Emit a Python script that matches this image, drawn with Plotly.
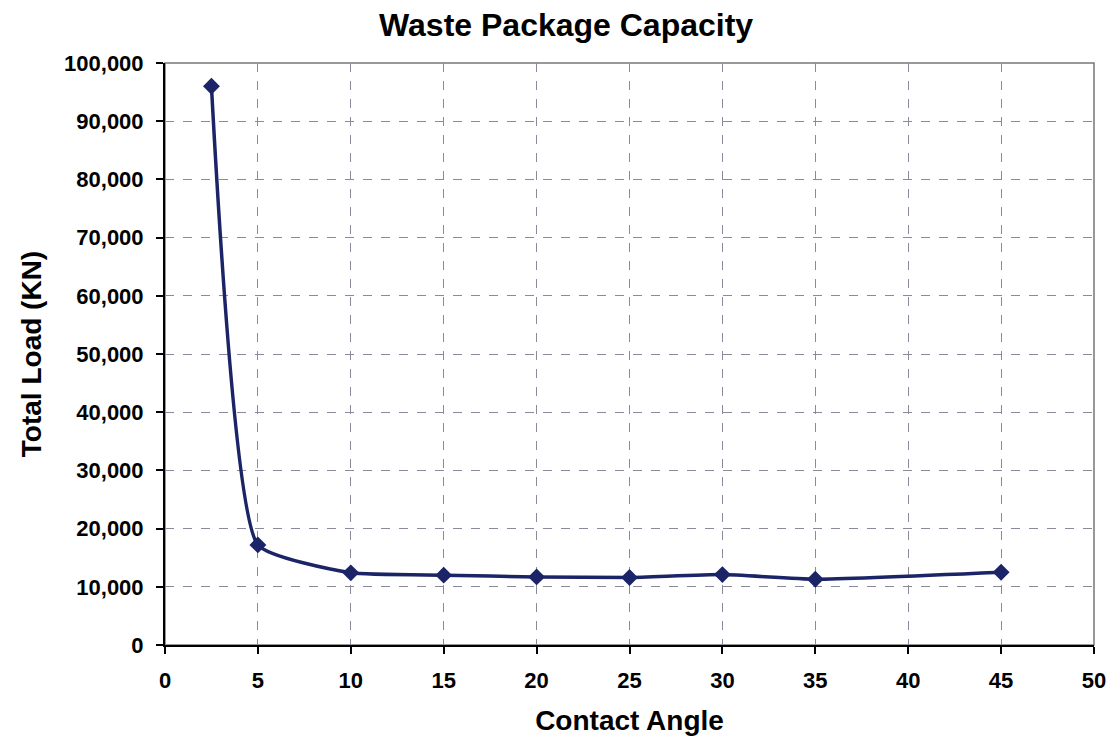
import plotly.graph_objects as go

contact_angle = [2.5, 5, 10, 15, 20, 25, 30, 35, 45]
total_load = [96000, 17200, 12400, 12000, 11700, 11600, 12100, 11300, 12500]

x_ticks = list(range(0, 55, 5))
y_ticks = list(range(0, 110000, 10000))

font_family = "Liberation Sans, Arial, sans-serif"

fig = go.Figure()
fig.add_trace(go.Scatter(
    x=contact_angle, y=total_load,
    mode="lines+markers",
    line=dict(color="#1b2466", width=3.5, shape="spline", smoothing=0.45),
    marker=dict(symbol="diamond", size=13, color="#1b2466"),
    showlegend=False,
))

axis_common = dict(
    showgrid=True, gridcolor="#8a8a9a", griddash="dash", gridwidth=1,
    showline=True, linecolor="black", linewidth=2,
    ticks="outside", ticklen=7, tickcolor="black", tickwidth=1.5,
    zeroline=False, automargin=False,
    tickfont=dict(family=font_family, size=22, color="black", weight="bold"),
)

fig.update_xaxes(
    range=[0, 50], tickvals=x_ticks, ticktext=[str(v) for v in x_ticks],
    ticklabelstandoff=8,
    title=dict(text="<b>Contact Angle</b>", font=dict(family=font_family, size=28, color="black"), standoff=18),
    **axis_common,
)
fig.update_yaxes(
    range=[0, 100000], tickvals=y_ticks, ticktext=[f"{v:,}" for v in y_ticks],
    ticklabelstandoff=8,
    title=dict(text="<b>Total Load (KN)</b>", font=dict(family=font_family, size=28, color="black"), standoff=14),
    **axis_common,
)

# light border on top/right of plot area
fig.add_shape(type="rect", xref="paper", yref="paper", x0=0, y0=0, x1=1, y1=1,
              line=dict(color="#777777", width=1.5), layer="below")

fig.update_layout(
    width=1110, height=740,
    margin=dict(l=165, r=16, t=63, b=95),
    paper_bgcolor="white", plot_bgcolor="white",
    title=dict(text="<b>Waste Package Capacity</b>", x=0.51, xanchor="center", y=0.966, yanchor="middle",
               font=dict(family=font_family, size=32, color="black")),
)

fig.write_html("out.html")
